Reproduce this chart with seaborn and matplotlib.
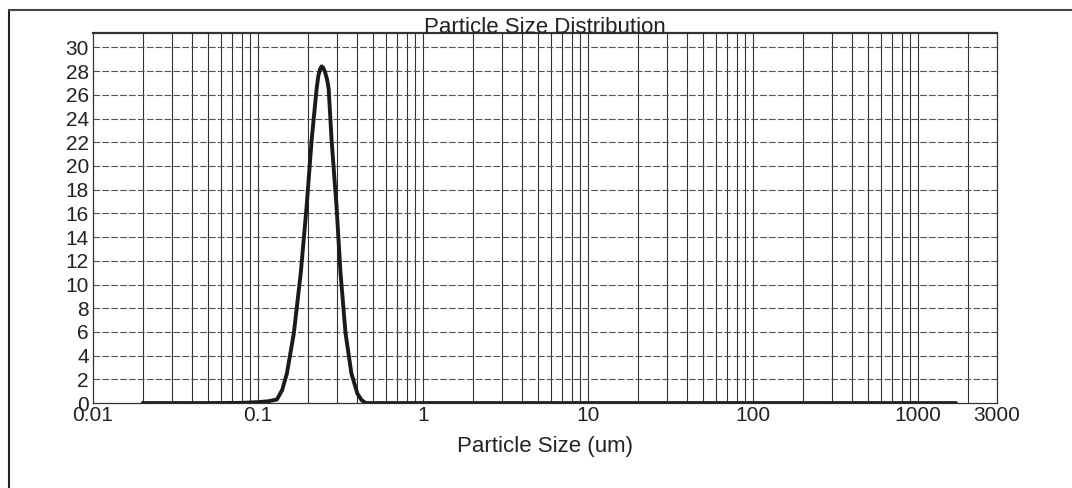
import numpy as np
import pandas as pd
import matplotlib
matplotlib.use('Agg')
import matplotlib.pyplot as plt
import seaborn as sns
from matplotlib.lines import Line2D
from matplotlib.ticker import FixedLocator, NullFormatter

# Particle size (um) and volume values
sizes = [0.02, 0.05, 0.08, 0.1, 0.115, 0.13, 0.14, 0.1496, 0.1648, 0.1816, 0.197,
         0.2113, 0.2264, 0.232, 0.238, 0.243, 0.248, 0.255, 0.262, 0.268, 0.279,
         0.299, 0.316, 0.339, 0.368, 0.40, 0.424, 0.45, 1.0, 10.0, 100.0, 1000.0, 1700.0]
volumes = [0.0, 0.0, 0.02, 0.08, 0.15, 0.3, 1.1, 2.5, 5.9, 11.0, 16.6,
           22.2, 26.5, 27.6, 28.2, 28.4, 28.3, 27.9, 27.3, 26.5, 22.2,
           16.6, 11.0, 5.9, 2.5, 0.8, 0.25, 0.0, 0.0, 0.0, 0.0, 0.0, 0.0]

x_ticks = [0.01, 0.1, 1, 10, 100, 1000, 3000]
x_tick_labels = ['0.01', '0.1', '1', '10', '100', '1000', '3000']
y_ticks = list(range(0, 31, 2))

df = pd.DataFrame({'size': sizes, 'volume': volumes})

sns.set_style('white')
plt.rcParams['font.family'] = ['Liberation Sans', 'DejaVu Sans']

fig = plt.figure(figsize=(10.72, 4.88), dpi=100)
ax = fig.add_axes([0.0868, 0.174, 0.843, 0.758])

sns.lineplot(data=df, x='size', y='volume', color='#1a1a1a', linewidth=2.8,
             sort=False, estimator=None, ax=ax)

ax.set_xscale('log')
ax.set_xlim(0.01, 3000)
ax.set_ylim(0, 31.2)

ax.xaxis.set_major_locator(FixedLocator(x_ticks))
ax.set_xticklabels(x_tick_labels)
minor = [m * 10.0 ** e for e in range(-2, 4) for m in range(2, 10) if m * 10.0 ** e < 2500]
ax.xaxis.set_minor_locator(FixedLocator(minor))
ax.xaxis.set_minor_formatter(NullFormatter())
ax.set_yticks(y_ticks)

# grid: solid vertical lines, dashed horizontal lines
ax.grid(False)
for xv in minor + [0.1, 1, 10, 100, 1000]:
    ax.axvline(xv, color='#333333', linewidth=0.8, zorder=0)
for yv in y_ticks[1:]:
    ax.axhline(yv, color='#555555', linewidth=0.8, linestyle=(0, (6, 2)), zorder=0)

for s in ax.spines.values():
    s.set_color('#333333')
    s.set_linewidth(0.9)
ax.spines['top'].set_linewidth(1.6)

ax.tick_params(axis='both', length=0, labelsize=15, colors='#222222', pad=2)
ax.tick_params(axis='y', pad=3)

ax.set_title('Particle Size Distribution', fontsize=16, color='#222222', pad=0)
ax.set_xlabel('Particle Size (um)', fontsize=16, color='#222222', labelpad=8)
ax.set_ylabel('')

# scanned page border on the left and top
fig.add_artist(Line2D([0.008, 0.008], [0.0, 0.98], color='#222222', linewidth=1.5))
fig.add_artist(Line2D([0.008, 1.0], [0.98, 0.98], color='#444444', linewidth=1.5))

plt.savefig('out.png', dpi=100)
